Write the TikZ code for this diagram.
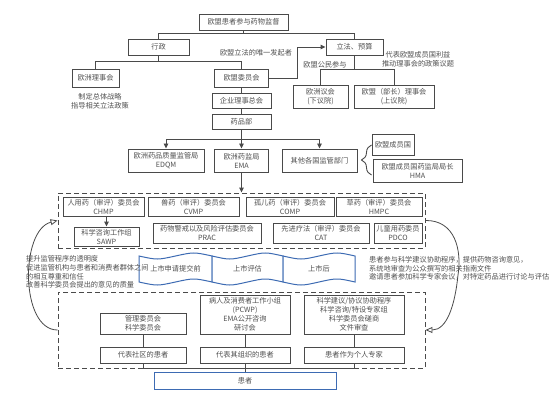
\documentclass[tikz,border=0pt]{standalone}
\usepackage{fontspec}
\setmainfont{Noto Sans CJK SC}
\usetikzlibrary{arrows.meta,decorations.pathreplacing}
\definecolor{ln}{HTML}{4A4A4A}
\definecolor{tx}{HTML}{505050}
\definecolor{bl}{HTML}{3D6BB3}
\begin{document}
\begin{tikzpicture}[x=1pt,y=-1pt,
 box/.style={draw=ln,line width=0.95pt,inner sep=0pt,align=center,text=tx,font=\fontsize{7.2}{9}\selectfont},
 sz/.style 2 args={minimum width=#1pt,minimum height=#2pt},
 lbl/.style={inner sep=0pt,text=tx,font=\fontsize{7.2}{8.7}\selectfont},
 con/.style={draw=ln,line width=0.95pt},
 arr/.style={con,-{Triangle[length=5pt,width=4.5pt]}},
 oarr/.style={draw=ln,line width=0.8pt,-{Triangle[open,length=7pt,width=6pt]}},
 dbox/.style={draw=ln,line width=0.95pt,dash pattern=on 5pt off 3pt,inner sep=0pt},
 tape/.style={draw=bl,line width=1pt,fill=white},
]
\fill[white] (0,0) rectangle (555,404);
\useasboundingbox (0,0) rectangle (555,404);

% top part
\node[box,sz={89}{16}] (top) at (243.5,22) {欧盟患者参与药物监督};
\node[box,sz={61}{16}] (xz) at (158.5,47) {行政};
\node[box,sz={57}{16}] (lf) at (354.5,47) {立法、预算};
\node[box,sz={47}{18}] (ouc) at (95.5,78) {欧洲理事会};
\node[box,sz={54}{18}] (wyh) at (241.5,78) {欧盟委员会};
\node[box,sz={59}{15}] (qy) at (241.5,100.5) {企业理事总会};
\node[box,sz={59}{15}] (yp) at (241.5,121.5) {药品部};
\node[box,sz={55}{23}] (ep) at (320.5,96.5) {欧洲议会\\(下议院)};
\node[box,sz={80}{23}] (ec) at (394,96.5) {欧盟（部长）理事会\\(上议院)};
\node[box,sz={76}{23}] (edqm) at (166,160.5) {欧洲药品质量监管局\\EDQM};
\node[box,sz={54}{23}] (ema) at (241.5,160.5) {欧洲药监局\\EMA};
\node[box,sz={75}{23}] (oth) at (319.5,160.5) {其他各国监管部门};
\node[box,sz={42}{21}] (ms) at (393,144.5) {欧盟成员国};
\node[box,sz={89}{23}] (hma) at (417.5,170.5) {欧盟成员国药监局局长\\HMA};

\node[lbl,align=center] (t1) at (100,101) {制定总体战略\\指导相关立法政策};
\node[lbl] (t2) at (256,53) {欧盟立法的唯一发起者};
\node[lbl] (t3) at (325,65) {欧盟公民参与};
\node[lbl,align=center] (t4) at (418,59.5) {代表欧盟成员国利益\\推动理事会的政策议题};

% connectors top
\draw[con] (top.south) -- ++(0,4);
\draw[con] (xz.north) -- ++(0,-5) -| (lf.north);
\draw[con] (xz.south) -- ++(0,7);
\draw[con] (ouc.north) -- ++(0,-7) -| (wyh.north);
\draw[arr] (wyh.east) -- ++(28,0) |- (lf.west);
\draw[con] (lf.south) -- ++(0,15);
\draw[con] (ep.north) -- ++(0,-15) -| (ec.north);
\draw[con] (wyh.south) -- (qy.north);
\draw[con] (qy.south) -- (yp.north);
\coordinate (j) at (241.5,139);
\draw[con] (yp.south) -- (j);
\draw[arr] (j) -| (edqm.north);
\draw[arr] (j) -- (ema.north);
\draw[arr] (j) -| (oth.north);
\draw[ln,line width=0.9pt,decorate,decoration={brace,amplitude=10pt}] (371.5,175) -- (371.5,145);

% committees dashed box
\node[dbox,sz={367}{55}] (d1) at (241.5,220.5) {};
\draw[arr] (ema.south) -- (d1.north);
\node[box,sz={81}{19}] (chmp) at (103.5,206.5) {人用药（审评）委员会\\CHMP};
\node[box,sz={91}{19}] (cvmp) at (193.5,206.5) {兽药（审评）委员会\\CVMP};
\node[box,sz={88}{19}] (comp) at (290,206.5) {孤儿药（审评）委员会\\COMP};
\node[box,sz={86}{19}] (hmpc) at (379,206.5) {草药（审评）委员会\\HMPC};
\node[box,sz={65}{19}] (sawp) at (106.5,236.5) {科学咨询工作组\\SAWP};
\node[box,sz={108}{20}] (prac) at (207,233) {药物警戒以及风险评估委员会\\PRAC};
\node[box,sz={96}{20}] (cat) at (321,233) {先进疗法（审评）委员会\\CAT};
\node[box,sz={48}{20}] (pdco) at (398,233) {儿童用药委员\\PDCO};
\draw[arr] (sawp.north |- chmp.south) -- (sawp.north);

% banners
\draw[tape] (139,256) .. controls (157.25,260) .. (175.5,256) .. controls (193.75,252) .. (212,256) -- (212,282) .. controls (193.75,278) .. (175.5,282) .. controls (157.25,286) .. (139,282) -- cycle;
\draw[tape] (212,256) .. controls (229.75,260) .. (247.5,256) .. controls (265.25,252) .. (283,256) -- (283,282) .. controls (265.25,278) .. (247.5,282) .. controls (229.75,286) .. (212,282) -- cycle;
\draw[tape] (283,256) .. controls (301,260) .. (319,256) .. controls (337,252) .. (355,256) -- (355,282) .. controls (337,278) .. (319,282) .. controls (301,286) .. (283,282) -- cycle;
\node[lbl] (b1) at (175.5,268.5) {上市申请提交前};
\node[lbl] (b2) at (247.5,268.5) {上市评估};
\node[lbl] (b3) at (319,268.5) {上市后};

\node[lbl,align=left,anchor=west] (n1) at (26,272) {提升监管程序的透明度\\促进监管机构与患者和消费者群体之间\\的相互尊重和信任\\改善科学委员会提出的意见的质量};
\node[lbl,align=left,anchor=west] (n2) at (369,268.5) {患者参与科学建议协助程序，提供药物咨询意见，\\系统地审查为公众撰写的相关指南文件\\邀请患者参加科学专家会议，对特定药品进行讨论与评估};

% patients dashed box
\node[dbox,sz={367}{76}] (d2) at (241.5,330) {};
\node[box,sz={86}{21}] (gl) at (143,323.5) {管理委员会\\科学委员会};
\node[box,sz={86}{16}] (sq) at (143,355) {代表社区的患者};
\node[box,sz={90}{39}] (pcwp) at (245,314.5) {病人及消费者工作小组\\(PCWP)\\EMA公开咨询\\研讨会};
\node[box,sz={90}{16}] (zz) at (245,355) {代表其组织的患者};
\node[box,sz={100}{39}] (kx) at (354,314.5) {科学建议/协议协助程序\\科学咨询/特设专家组\\科学委员会磋商\\文件审查};
\node[box,sz={100}{16}] (gr) at (354,355) {患者作为个人专家};
\node[box,draw=bl,sz={182}{17}] (hz) at (245,380.5) {患者};
\draw[con] (gl.south) -- (sq.north);
\draw[con] (pcwp.south) -- (zz.north);
\draw[con] (kx.south) -- (gr.north);
\draw[con] (sq.south) -- ++(0,4.5) -| (gr.south);
\draw[con] (zz.south) -- (hz.north);

% curved arrows
\draw[oarr] (d2.west) .. controls (20,330) and (20,230) .. (d1.west);
\draw[oarr] (d1.east) .. controls (455,220) and (462,250) .. (458,275) .. controls (455,305) and (447,330) .. (d2.east);
\end{tikzpicture}
\end{document}
